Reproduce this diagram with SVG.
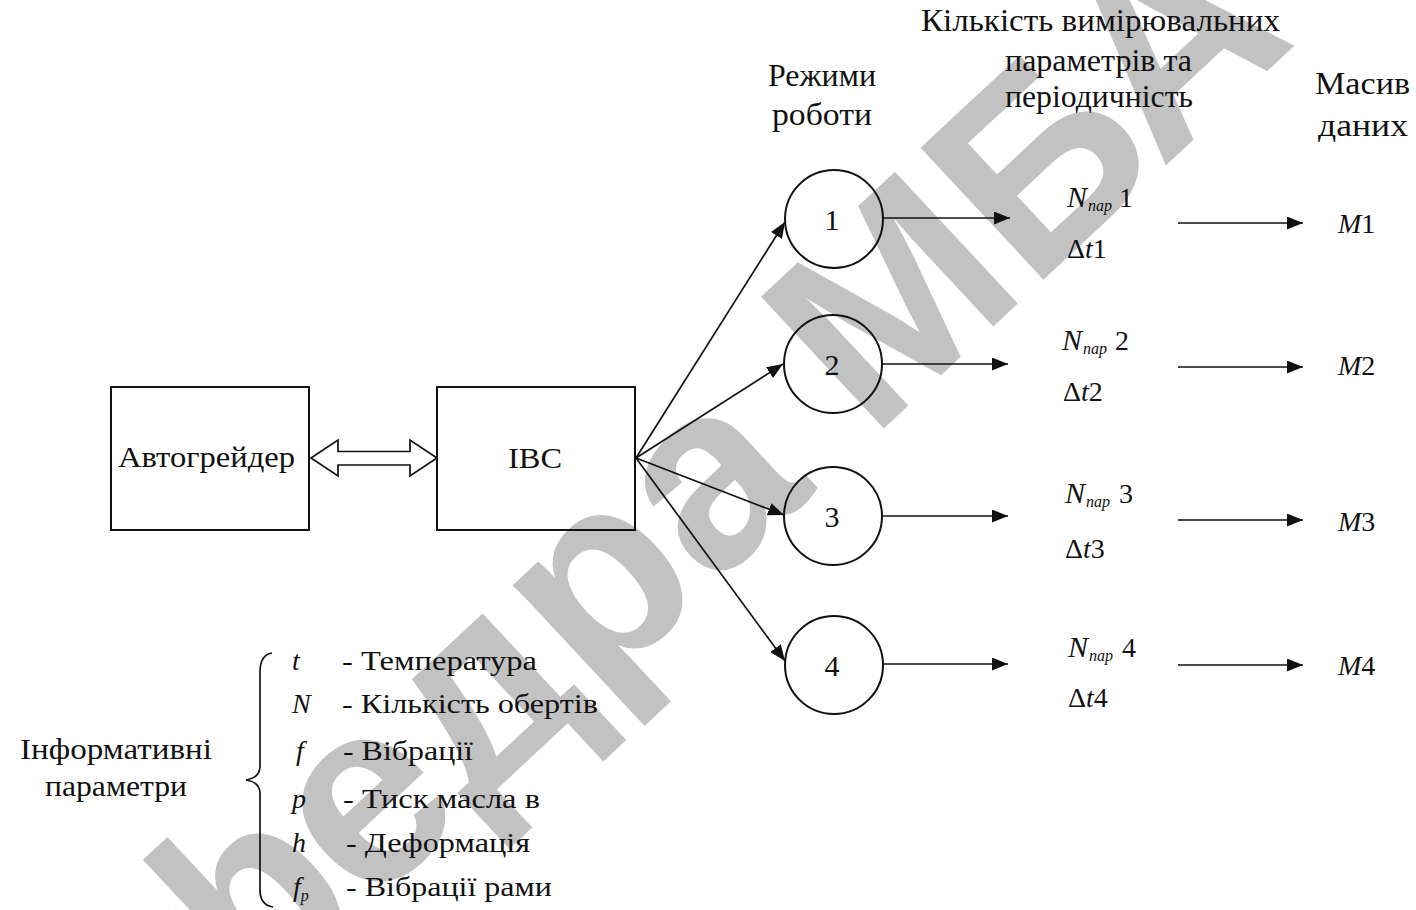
<svg xmlns="http://www.w3.org/2000/svg" width="1416" height="910" viewBox="0 0 1416 910">
<defs>
<style>
text{font-family:"Liberation Serif","Times New Roman",serif;fill:#111}
.h{font-size:31px}
.b{font-size:30px}
.l{font-size:28px}
.i{font-style:italic}
.d{font-size:30px;text-anchor:middle}
.sub{font-size:16px;font-style:italic}
.ln{stroke:#111;stroke-width:1.7;fill:none}
.bx{stroke:#111;stroke-width:2;fill:none}
.wm{font-family:"Liberation Sans",Arial,sans-serif;font-weight:bold;fill:#c2c2c2}
</style>
<marker id="ah" markerUnits="userSpaceOnUse" markerWidth="17" markerHeight="13" refX="16" refY="6.5" orient="auto">
<path d="M0,0 L16,6.5 L0,13 z" fill="#111"/>
</marker>
</defs>
<rect width="1416" height="910" fill="#fff"/>
<text class="wm" font-size="262" transform="translate(-25,1276) rotate(-43)">Кафедра МБА</text>

<g id="headers">
<text class="h" x="822" y="86" text-anchor="middle" textLength="108" lengthAdjust="spacingAndGlyphs">Режими</text>
<text class="h" x="822" y="125" text-anchor="middle" textLength="100" lengthAdjust="spacingAndGlyphs">роботи</text>
<text class="h" x="921" y="31" textLength="359" lengthAdjust="spacingAndGlyphs">Кількість вимірювальних</text>
<text class="h" x="1005" y="71" textLength="187" lengthAdjust="spacingAndGlyphs">параметрів та</text>
<text class="h" x="1005" y="107" textLength="188" lengthAdjust="spacingAndGlyphs">періодичність</text>
<text class="h" x="1315" y="94" textLength="95" lengthAdjust="spacingAndGlyphs">Масив</text>
<text class="h" x="1318" y="136" textLength="90" lengthAdjust="spacingAndGlyphs">даних</text>
</g>

<g id="autograder">
<rect class="bx" x="111" y="387" width="198" height="143"/>
<text class="b" x="118" y="467" textLength="177" lengthAdjust="spacingAndGlyphs">Автогрейдер</text>
</g>
<g id="ibc">
<rect class="bx" x="437" y="387" width="198" height="143"/>
<text class="b" x="508" y="468" textLength="54" lengthAdjust="spacingAndGlyphs">IBC</text>
</g>

<g id="mode1"><circle class="bx" cx="834" cy="219" r="49"/><text class="d" x="832" y="230">1</text></g>
<g id="mode2"><circle class="bx" cx="833" cy="364" r="49"/><text class="d" x="832" y="375">2</text></g>
<g id="mode3"><circle class="bx" cx="833" cy="516" r="49"/><text class="d" x="832" y="527">3</text></g>
<g id="mode4"><circle class="bx" cx="834" cy="665" r="49"/><text class="d" x="832" y="676">4</text></g>

<g id="param1">
<text x="1067" y="207" class="l"><tspan class="i" font-size="30">N</tspan><tspan class="sub" dx="1" dy="4">пар</tspan><tspan x="1119" dy="-4">1</tspan></text>
<text x="1067" y="258" class="l">Δ<tspan class="i">t</tspan>1</text>
</g>
<g id="param2">
<text x="1062" y="350" class="l"><tspan class="i" font-size="30">N</tspan><tspan class="sub" dx="1" dy="4">пар</tspan><tspan x="1115" dy="-4">2</tspan></text>
<text x="1063" y="401" class="l">Δ<tspan class="i">t</tspan>2</text>
</g>
<g id="param3">
<text x="1065" y="503" class="l"><tspan class="i" font-size="30">N</tspan><tspan class="sub" dx="1" dy="4">пар</tspan><tspan x="1119" dy="-4">3</tspan></text>
<text x="1065" y="558" class="l">Δ<tspan class="i">t</tspan>3</text>
</g>
<g id="param4">
<text x="1068" y="657" class="l"><tspan class="i" font-size="30">N</tspan><tspan class="sub" dx="1" dy="4">пар</tspan><tspan x="1122" dy="-4">4</tspan></text>
<text x="1068" y="707" class="l">Δ<tspan class="i">t</tspan>4</text>
</g>

<g id="array1"><text class="l" x="1338" y="233"><tspan class="i">M</tspan>1</text></g>
<g id="array2"><text class="l" x="1338" y="375"><tspan class="i">M</tspan>2</text></g>
<g id="array3"><text class="l" x="1338" y="531"><tspan class="i">M</tspan>3</text></g>
<g id="array4"><text class="l" x="1338" y="675"><tspan class="i">M</tspan>4</text></g>

<g id="info-params">
<text class="b" x="20" y="759" textLength="192" lengthAdjust="spacingAndGlyphs">Інформативні</text>
<text class="b" x="45" y="796" textLength="142" lengthAdjust="spacingAndGlyphs">параметри</text>
<path class="ln" d="M272,653 Q260,655 260,672 L260,766 Q260,778 246,780 Q260,782 260,794 L260,890 Q260,905 273,907"/>
<text class="l i" x="292" y="670">t</text>
<text class="l" x="342" y="670" textLength="195" lengthAdjust="spacingAndGlyphs">- Температура</text>
<text class="l i" x="292" y="713">N</text>
<text class="l" x="342" y="713" textLength="256" lengthAdjust="spacingAndGlyphs">- Кількість обертів</text>
<text class="l i" x="296" y="760">f</text>
<text class="l" x="343" y="760" textLength="130" lengthAdjust="spacingAndGlyphs">- Вібрації</text>
<text class="l i" x="292" y="808">p</text>
<text class="l" x="343" y="808" textLength="197" lengthAdjust="spacingAndGlyphs">- Тиск масла в</text>
<text class="l i" x="292" y="852">h</text>
<text class="l" x="346" y="852" textLength="184" lengthAdjust="spacingAndGlyphs">- Деформація</text>
<text class="l" x="293" y="896"><tspan class="i">f</tspan><tspan class="sub" dy="5">р</tspan></text>
<text class="l" x="346" y="896" textLength="206" lengthAdjust="spacingAndGlyphs">- Вібрації рами</text>
</g>

<g id="connectors">
<path class="ln" d="M311,458 L338,440 L338,451.5 L410,451.5 L410,440 L437,458 L410,476 L410,465 L338,465 L338,476 Z" fill="#fff"/>
<line class="ln" x1="636" y1="458" x2="785" y2="222" marker-end="url(#ah)"/>
<line class="ln" x1="636" y1="458" x2="783" y2="364" marker-end="url(#ah)"/>
<line class="ln" x1="636" y1="458" x2="784" y2="515" marker-end="url(#ah)"/>
<line class="ln" x1="636" y1="458" x2="785" y2="661" marker-end="url(#ah)"/>
<line class="ln" x1="883" y1="218" x2="1010" y2="218" marker-end="url(#ah)"/>
<line class="ln" x1="882" y1="364" x2="1008" y2="364" marker-end="url(#ah)"/>
<line class="ln" x1="882" y1="516" x2="1008" y2="516" marker-end="url(#ah)"/>
<line class="ln" x1="883" y1="664" x2="1008" y2="664" marker-end="url(#ah)"/>
<line class="ln" x1="1178" y1="223" x2="1303" y2="223" marker-end="url(#ah)"/>
<line class="ln" x1="1178" y1="367" x2="1303" y2="367" marker-end="url(#ah)"/>
<line class="ln" x1="1178" y1="520" x2="1303" y2="520" marker-end="url(#ah)"/>
<line class="ln" x1="1178" y1="665" x2="1303" y2="665" marker-end="url(#ah)"/>
</g>
</svg>
